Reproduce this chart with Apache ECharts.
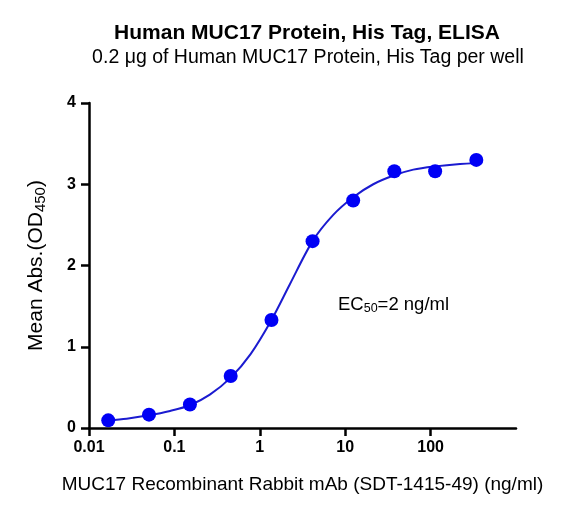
<!DOCTYPE html>
<html>
<head>
<meta charset="utf-8">
<script src="https://cdn.jsdelivr.net/npm/echarts@6/dist/echarts.min.js"></script>
<style>
  html, body { margin: 0; padding: 0; background: #fff; }
  #main { width: 573px; height: 507px; }
</style>
</head>
<body>
<div id="main"></div>
<script>
// measured points (ng/ml, OD450)
var conc = [0.0168, 0.0504, 0.152, 0.456, 1.37, 4.15, 12.4, 37.6, 113, 343];
var od = [0.094, 0.164, 0.29, 0.64, 1.33, 2.30, 2.80, 3.16, 3.16, 3.30];
// fitted curve
var fitX = [0.0168, 0.0276, 0.05, 0.089, 0.152, 0.26, 0.456, 0.78, 1.37, 2.25, 4.15, 7.2, 12.4, 21.3, 37.6, 62.7, 113, 221, 343];
var fitY = [0.094, 0.115, 0.156, 0.21, 0.28, 0.41, 0.62, 0.91, 1.33, 1.77, 2.30, 2.62, 2.84, 3.00, 3.11, 3.18, 3.22, 3.25, 3.26];
var xTicks = [0.01, 0.1, 1, 10, 100];

var font = 'Liberation Sans, Arial, sans-serif';

var pts = conc.map(function (c, i) { return [c, od[i]]; });
var fit = fitX.map(function (c, i) { return [c, fitY[i]]; });

var chart = echarts.init(document.getElementById('main'));
chart.setOption({
    animation: false,
    backgroundColor: '#fff',
    title: [{
        text: 'Human MUC17 Protein, His Tag, ELISA',
        left: 302, top: 18, textAlign: 'center',
        textStyle: { fontFamily: font, fontSize: 21, fontWeight: 'bold', color: '#000' }
    }, {
        text: '0.2 μg of Human MUC17 Protein, His Tag per well',
        left: 303, top: 43, textAlign: 'center',
        textStyle: { fontFamily: font, fontSize: 19.5, fontWeight: 'normal', color: '#000' }
    }],
    grid: { left: 89, right: 57, top: 103, bottom: 79 },
    xAxis: {
        type: 'log', logBase: 10, min: 0.01, max: 1000,
        name: 'MUC17 Recombinant Rabbit mAb (SDT-1415-49) (ng/ml)',
        nameLocation: 'middle', nameGap: 47,
        nameTextStyle: { fontFamily: font, fontSize: 19, color: '#000' },
        axisLine: { lineStyle: { color: '#000', width: 2.5 } },
        axisTick: { length: 8, customValues: xTicks, lineStyle: { color: '#000', width: 2.5 } },
        axisLabel: {
            customValues: xTicks, margin: 12,
            fontFamily: font, fontSize: 16, fontWeight: 'bold', color: '#000',
            formatter: function (v) { return String(v); }
        },
        splitLine: { show: false },
        minorTick: { show: false }
    },
    yAxis: {
        type: 'value', min: 0, max: 4, interval: 1,
        name: '{n|Mean Abs.(OD}{s|450}{n|)}',
        nameLocation: 'middle', nameGap: 41, nameRotate: 90,
        nameTextStyle: {
            rich: {
                n: { fontFamily: font, fontSize: 21, color: '#000' },
                s: { fontFamily: font, fontSize: 15, color: '#000', verticalAlign: 'bottom', padding: [9, 0, 0, 0] }
            }
        },
        axisLine: { show: true, lineStyle: { color: '#000', width: 2.5 } },
        axisTick: { show: true, length: 8, lineStyle: { color: '#000', width: 2.5 } },
        axisLabel: { margin: 13, fontFamily: font, fontSize: 16, fontWeight: 'bold', color: '#000' },
        splitLine: { show: false }
    },
    series: [{
        type: 'line',
        data: fit,
        smooth: 0.3,
        showSymbol: false,
        lineStyle: { color: '#1b1bd0', width: 2 },
        z: 2
    }, {
        type: 'scatter',
        data: pts,
        symbol: 'circle',
        symbolSize: 14,
        itemStyle: { color: '#0000f5', opacity: 1 },
        z: 3
    }],
    graphic: [{
        type: 'text',
        left: 338, top: 295,
        style: {
            text: '{n|EC}{s|50}{n|=2 ng/ml}',
            rich: {
                n: { fontFamily: font, fontSize: 18.5, fill: '#000' },
                s: { fontFamily: font, fontSize: 12.5, fill: '#000', verticalAlign: 'bottom', padding: [8, 0, 0, 0] }
            }
        }
    }]
});
</script>
</body>
</html>
